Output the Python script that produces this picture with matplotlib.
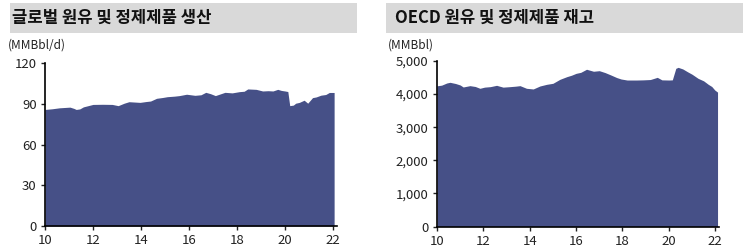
import matplotlib.pyplot as plt
from matplotlib.patches import Rectangle

plt.rcParams['font.family'] = ['Noto Sans CJK KR', 'DejaVu Sans']

# global crude & product output (MMBbl/d)
prod_t = [2010.0, 2010.3, 2010.6, 2011.04, 2011.2, 2011.3, 2011.45, 2011.6, 2011.8, 2012.0, 2012.4,
          2012.8, 2013.05, 2013.3, 2013.5, 2013.96, 2014.2, 2014.4, 2014.65, 2014.9, 2015.1, 2015.4,
          2015.6, 2015.9, 2016.25, 2016.5, 2016.7, 2016.9, 2017.1, 2017.3, 2017.5, 2017.8, 2018.1,
          2018.3, 2018.45, 2018.8, 2019.07, 2019.3, 2019.5, 2019.7, 2019.85, 2020.0, 2020.12, 2020.2,
          2020.35, 2020.45, 2020.6, 2020.8, 2020.95, 2021.15, 2021.3, 2021.5, 2021.7, 2021.85, 2022.05]
prod_v = [85.8, 86.3, 87.0, 87.5, 86.6, 85.8, 86.2, 87.7, 88.6, 89.5, 89.6,
          89.5, 88.6, 90.4, 91.5, 91.0, 91.6, 92.0, 94.0, 94.6, 95.2, 95.6,
          96.0, 97.0, 96.2, 96.6, 98.4, 97.4, 96.0, 97.2, 98.4, 98.0, 98.9,
          99.2, 100.9, 100.6, 99.4, 99.6, 99.4, 100.6, 99.8, 99.4, 99.0, 88.6,
          89.0, 90.4, 91.0, 92.6, 90.4, 94.5, 95.0, 96.3, 96.8, 98.3, 98.3]

# OECD crude & product inventories (MMBbl)
inv_t = [2010.0, 2010.2, 2010.42, 2010.56, 2010.8, 2011.0, 2011.13, 2011.42, 2011.65, 2011.85, 2012.05,
         2012.3, 2012.57, 2012.85, 2013.15, 2013.4, 2013.58, 2013.86, 2014.15, 2014.44, 2014.73, 2015.0,
         2015.3, 2015.6, 2015.8, 2016.0, 2016.2, 2016.45, 2016.75, 2017.0, 2017.25, 2017.5, 2017.75,
         2017.94, 2018.2, 2018.6, 2018.9, 2019.2, 2019.5, 2019.7, 2020.0, 2020.15, 2020.3, 2020.4,
         2020.6, 2020.8, 2021.0, 2021.26, 2021.5, 2021.7, 2021.85, 2021.98, 2022.1]
inv_v = [4250, 4270, 4335, 4356, 4320, 4275, 4215, 4255, 4230, 4175, 4210,
         4225, 4265, 4210, 4225, 4240, 4255, 4175, 4155, 4245, 4295, 4326,
         4446, 4527, 4570, 4627, 4657, 4750, 4690, 4707, 4650, 4577, 4500,
         4456, 4425, 4425, 4430, 4440, 4506, 4430, 4425, 4430, 4778, 4808,
         4760, 4677, 4600, 4476, 4400, 4295, 4230, 4124, 4060]

prod_ticks = [0, 30, 60, 90, 120]
inv_ticks = [0, 1000, 2000, 3000, 4000, 5000]
x_ticks = [10, 12, 14, 16, 18, 20, 22]

FILL = '#465087'
BAND = '#d9d9d9'

fig = plt.figure(figsize=(7.43, 2.49), dpi=100)


def panel(rect, t, v, yticks, ylabels, xlim, title, unit, band, title_x, unit_x):
    ax = fig.add_axes(rect)
    ax.fill_between([x - 2000 for x in t], v, 0, color=FILL, linewidth=0)
    ax.set_xlim(*xlim)
    ax.set_ylim(yticks[0], yticks[-1])
    ax.set_xticks(x_ticks)
    ax.set_xticklabels([str(x) for x in x_ticks])
    ax.set_yticks(yticks)
    ax.set_yticklabels(ylabels)
    for s in ['top', 'right']:
        ax.spines[s].set_visible(False)
    for s in ['left', 'bottom']:
        ax.spines[s].set_linewidth(1.2)
    ax.tick_params(direction='out', length=3, width=1, labelsize=9.5, colors='#222222', pad=3)
    fig.patches.append(Rectangle((band[0] / 743, 1 - band[3] / 249), (band[1] - band[0]) / 743,
                                 (band[3] - band[2]) / 249, transform=fig.transFigure,
                                 facecolor=BAND, edgecolor='none'))
    fig.text(title_x / 743, 1 - 18 / 249, title, fontsize=12, fontweight='bold',
             va='center', ha='left', color='#111111')
    fig.text(unit_x / 743, 1 - 45 / 249, unit, fontsize=8.5, va='center', ha='left', color='#222222')
    return ax


panel([45 / 743, 1 - 226 / 249, (337 - 45) / 743, (226 - 63) / 249], prod_t, prod_v,
      prod_ticks, [str(y) for y in prod_ticks], (10, 22.17),
      '글로벌 원유 및 정제제품 생산', '(MMBbl/d)', (10, 357, 3, 33), 12, 8)
panel([437 / 743, 1 - 226.5 / 249, (718.7 - 437) / 743, (226.5 - 61) / 249], inv_t, inv_v,
      inv_ticks, [f'{y:,}' for y in inv_ticks], (10, 22.15),
      'OECD 원유 및 정제제품 재고', '(MMBbl)', (386, 743, 3, 33), 395, 388)

fig.savefig('out.png', dpi=100)
